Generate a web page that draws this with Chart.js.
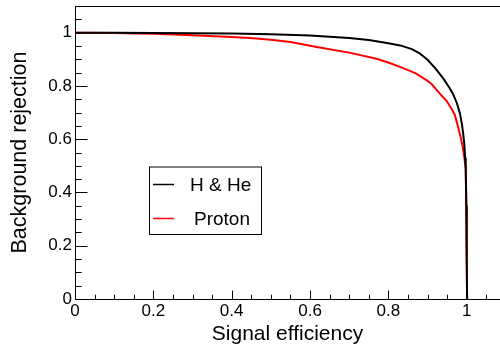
<!doctype html>
<html>
<head>
<meta charset="utf-8">
<title>Background rejection vs signal efficiency</title>
<script src="https://cdn.jsdelivr.net/npm/chart.js@4.4.1/dist/chart.umd.min.js"></script>
<style>
  html, body { margin: 0; padding: 0; background: #ffffff; }
  #wrap { width: 500px; height: 352px; position: relative; }
</style>
</head>
<body>
<div id="wrap"><canvas id="roc"></canvas></div>
<script>
// ROC curves.
const effHHe = [0, 0.1, 0.2, 0.3, 0.4, 0.5, 0.6, 0.7, 0.75, 0.8, 0.83, 0.86, 0.88, 0.9, 0.92, 0.94, 0.955, 0.965, 0.975, 0.983, 0.988, 0.991, 0.994, 0.996, 0.9975, 0.999, 1.0, 1.001];
const rejHHe = [1.0, 1.0, 0.999, 0.998, 0.997, 0.994, 0.989, 0.980, 0.972, 0.960, 0.952, 0.938, 0.922, 0.898, 0.866, 0.828, 0.795, 0.770, 0.735, 0.696, 0.655, 0.621, 0.580, 0.530, 0.490, 0.35, 0.15, 0.0];

const effProton = [0, 0.1, 0.2, 0.3, 0.4, 0.447, 0.5, 0.55, 0.617, 0.7, 0.77, 0.8, 0.838, 0.87, 0.898, 0.911, 0.932, 0.949, 0.962, 0.970, 0.979, 0.985, 0.990, 0.994, 0.9975, 0.999, 1.0, 1.001];
const rejProton = [1.0, 0.999, 0.996, 0.990, 0.984, 0.980, 0.973, 0.965, 0.946, 0.925, 0.902, 0.888, 0.867, 0.847, 0.821, 0.806, 0.770, 0.743, 0.712, 0.690, 0.640, 0.605, 0.570, 0.530, 0.490, 0.35, 0.15, 0.0];

const seriesNames = ['H & He', 'Proton'];
const seriesColors = ['#000000', '#ff0000'];

const majorTicks = [0, 0.2, 0.4, 0.6, 0.8, 1];
const X_MAX = 1.085;
const Y_MAX = 1.1;
const FONT = '"Liberation Sans", Arial, Helvetica, sans-serif';

function toPoints(xs, ys) {
  return xs.map((x, i) => ({ x, y: ys[i] }));
}

function fmt(v) {
  return String(Math.round(v * 10) / 10);
}

// ROOT-style frame: axis lines, top border, inward major/minor ticks.
const rootFrame = {
  id: 'rootFrame',
  beforeDatasetsDraw(chart) {
    const { ctx, chartArea: a, scales: { x, y } } = chart;
    ctx.save();
    ctx.strokeStyle = '#000';
    ctx.lineWidth = 1;
    ctx.beginPath();
    ctx.moveTo(a.left + 0.5, a.top + 0.5);
    ctx.lineTo(a.left + 0.5, a.bottom + 0.5);
    ctx.lineTo(a.right, a.bottom + 0.5);
    ctx.moveTo(a.left, a.top + 0.5);
    ctx.lineTo(a.right, a.top + 0.5);
    for (let i = 0; i * 0.05 <= X_MAX; i++) {
      const px = Math.round(x.getPixelForValue(i * 0.05)) + 0.5;
      const len = i % 4 === 0 ? 8.5 : 4.3;
      ctx.moveTo(px, a.bottom);
      ctx.lineTo(px, a.bottom - len);
    }
    for (let i = 0; i * 0.05 <= Y_MAX; i++) {
      const py = Math.round(y.getPixelForValue(i * 0.05)) + 0.5;
      const len = i % 4 === 0 ? 12.5 : 6.7;
      ctx.moveTo(a.left, py);
      ctx.lineTo(a.left + len, py);
    }
    ctx.stroke();
    ctx.restore();
  },
  afterDraw(chart) {
    // boxed legend inside the plot
    const { ctx } = chart;
    const box = { left: 149, top: 166.5, right: 261, bottom: 234 };
    ctx.save();
    ctx.fillStyle = '#fff';
    ctx.fillRect(box.left, box.top, box.right - box.left, box.bottom - box.top);
    ctx.strokeStyle = '#000';
    ctx.lineWidth = 1;
    ctx.strokeRect(box.left + 0.5, box.top + 0.5, box.right - box.left, box.bottom - box.top);
    const rows = [184.5, 218.5];
    const textX = [190, 194];
    ctx.font = '19px ' + FONT;
    ctx.textBaseline = 'middle';
    chart.data.datasets.forEach((ds, i) => {
      ctx.strokeStyle = ds.borderColor;
      ctx.lineWidth = 1.5;
      ctx.beginPath();
      ctx.moveTo(153, rows[i]);
      ctx.lineTo(174, rows[i]);
      ctx.stroke();
      ctx.fillStyle = '#000';
      ctx.fillText(ds.label, textX[i], rows[i] + 1);
    });
    ctx.restore();
  }
};

new Chart(document.getElementById('roc'), {
  type: 'scatter',
  data: {
    datasets: [
      {
        label: seriesNames[0],
        data: toPoints(effHHe, rejHHe),
        showLine: true,
        borderColor: seriesColors[0],
        borderWidth: 2,
        pointRadius: 0,
        tension: 0
      },
      {
        label: seriesNames[1],
        data: toPoints(effProton, rejProton),
        showLine: true,
        borderColor: seriesColors[1],
        borderWidth: 2,
        pointRadius: 0,
        tension: 0
      }
    ]
  },
  options: {
    responsive: true,
    maintainAspectRatio: false,
    animation: false,
    layout: { padding: { top: 6, right: 0, left: 0, bottom: 0 } },
    plugins: {
      legend: { display: false },
      tooltip: { enabled: false }
    },
    scales: {
      x: {
        type: 'linear',
        min: 0,
        max: X_MAX,
        grid: { display: false, drawTicks: false },
        border: { display: false },
        afterBuildTicks: (s) => { s.ticks = majorTicks.map(v => ({ value: v })); },
        afterFit: (s) => { s.height = 53; s.paddingLeft = 0; s.paddingRight = 0; },
        ticks: {
          color: '#000',
          font: { family: FONT, size: 17 },
          padding: 2,
          maxRotation: 0,
          autoSkip: false,
          callback: fmt
        },
        title: {
          display: true,
          text: 'Signal efficiency',
          color: '#000',
          font: { family: FONT, size: 21 },
          padding: { top: 0, bottom: 5 }
        }
      },
      y: {
        type: 'linear',
        min: 0,
        max: Y_MAX,
        grid: { display: false, drawTicks: false },
        border: { display: false },
        afterBuildTicks: (s) => { s.ticks = majorTicks.map(v => ({ value: v })); },
        afterFit: (s) => { s.width = 75; s.paddingTop = 0; s.paddingBottom = 0; },
        ticks: {
          color: '#000',
          font: { family: FONT, size: 17 },
          padding: 3,
          autoSkip: false,
          callback: fmt
        },
        title: {
          display: true,
          text: 'Background rejection',
          color: '#000',
          font: { family: FONT, size: 21.5 },
          padding: { top: 7, bottom: 0 }
        }
      }
    }
  },
  plugins: [rootFrame]
});
</script>
</body>
</html>
